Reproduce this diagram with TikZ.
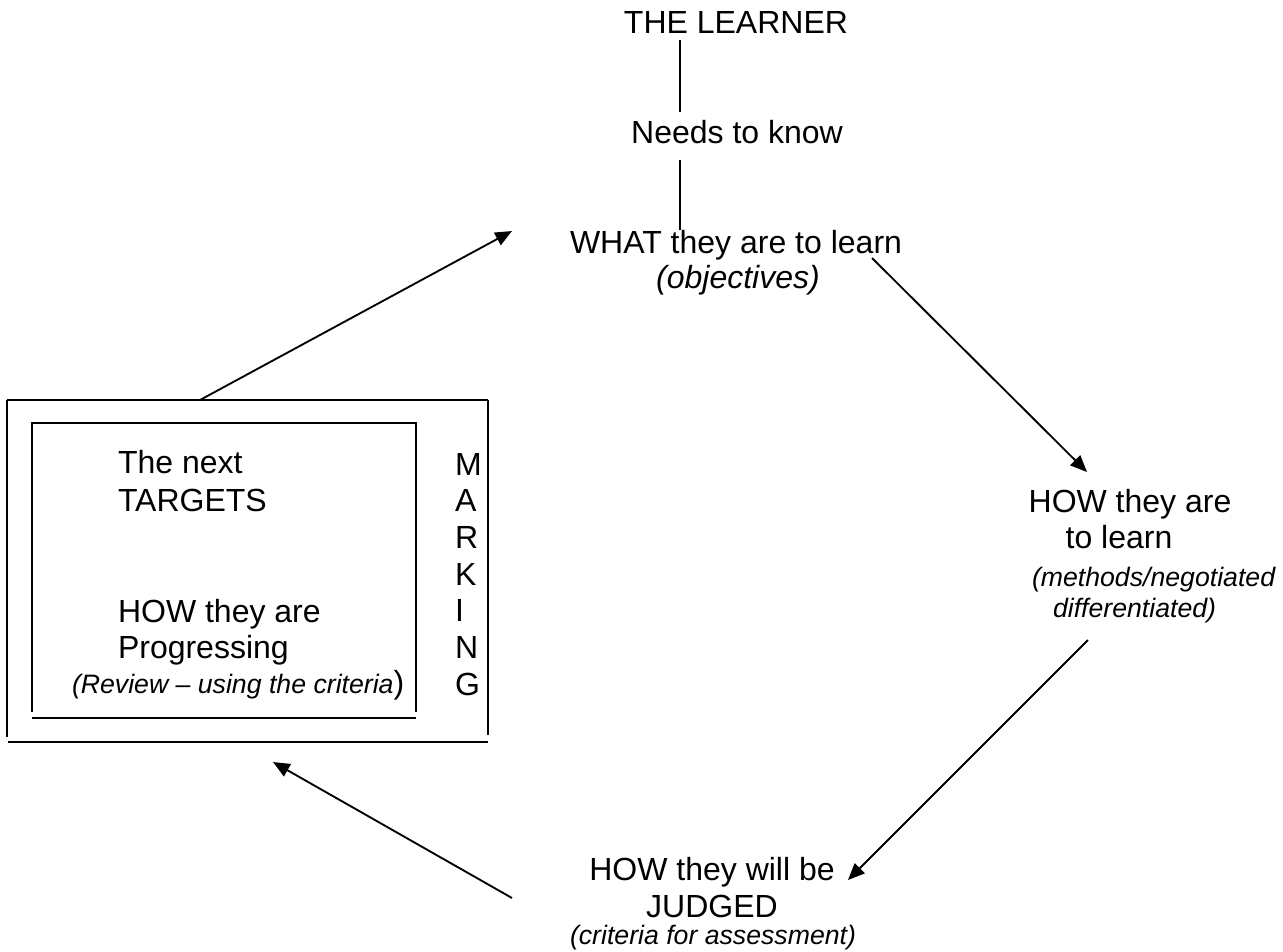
\documentclass[tikz,border=0pt]{standalone}
\usepackage{fontspec}
\setmainfont{Liberation Sans}
\usetikzlibrary{arrows.meta}
\begin{document}
\begin{tikzpicture}[x=0.75pt,y=-0.75pt,
  txt/.style={inner sep=0pt,outer sep=0pt,font=\fontsize{24}{28}\selectfont},
  itx/.style={inner sep=0pt,outer sep=0pt,font=\fontsize{24}{28}\selectfont\itshape},
  smit/.style={inner sep=0pt,outer sep=0pt,font=\fontsize{20}{24}\selectfont\itshape},
  link/.style={line width=1.4pt},
  arr/.style={line width=1.4pt,-{Triangle[length=12.5pt,width=10.5pt]}},
  frame/.style={line width=1.4pt}]
\useasboundingbox (0,0) rectangle (1283,951);
% top chain
\node[txt,anchor=base] (learner) at (736,33) {THE LEARNER};
\node[txt,anchor=base] (needs) at (737,143) {Needs to know};
\node[txt,anchor=base] (what) at (736,253) {WHAT they are to learn};
\node[itx,anchor=base] (obj) at (738,288) {(objectives)};
\coordinate (l1s) at (680,40);  \coordinate (l1e) at (680,112);
\coordinate (l2s) at (680,160); \coordinate (l2e) at (680,230);
\draw[link] (l1s) -- (l1e);
\draw[link] (l2s) -- (l2e);
% right
\node[txt,anchor=base] (howlearn) at (1130,512) {HOW they are};
\node[txt,anchor=base] (tolearn) at (1119,548) {to learn};
\node[smit,anchor=base west] (methods) at (1032,586) {(methods/negotiated};
\node[smit,anchor=base west] (diff) at (1053,617) {differentiated)};
% bottom
\node[txt,anchor=base] (judged1) at (712,880) {HOW they will be};
\node[txt,anchor=base] (judged2) at (712,917) {JUDGED};
\node[smit,anchor=base] (crit) at (713,944) {(criteria for assessment)};
% box
\draw[frame] (7,400) -- (488,400);
\draw[frame] (7,400) -- (7,737);
\draw[frame] (488,400) -- (488,735);
\draw[frame] (8,742) -- (488,742);
\draw[frame] (32,712) -- (32,423) -- (416,423) -- (416,712);
\draw[frame] (32,718) -- (416,718);
\node[txt,anchor=base west] (next) at (118,473) {The next};
\node[txt,anchor=base west] (targets) at (118,511) {TARGETS};
\node[txt,anchor=base west] (howprog) at (118,622) {HOW they are};
\node[txt,anchor=base west] (prog) at (118,658) {Progressing};
\node[smit,anchor=base west] (review) at (72,693) {(Review – using the criteria{\fontsize{24}{28}\selectfont\upshape)}};
\foreach \l [count=\i] in {M,A,R,K,I,N,G}
  \node[txt,anchor=base west] (mk\i) at (455,{475+36.7*(\i-1)}) {\l};
% arrows
\coordinate (a1s) at (872,258); \coordinate (a1e) at (1087,472);
\coordinate (a2s) at (1088,640); \coordinate (a2e) at (848,880);
\coordinate (a3s) at (512,898); \coordinate (a3e) at (273,762);
\coordinate (a4s) at (200,400); \coordinate (a4e) at (512,231);
\draw[arr] (a1s) -- (a1e);
\draw[arr] (a2s) -- (a2e);
\draw[arr] (a3s) -- (a3e);
\draw[arr] (a4s) -- (a4e);
\end{tikzpicture}
\end{document}
